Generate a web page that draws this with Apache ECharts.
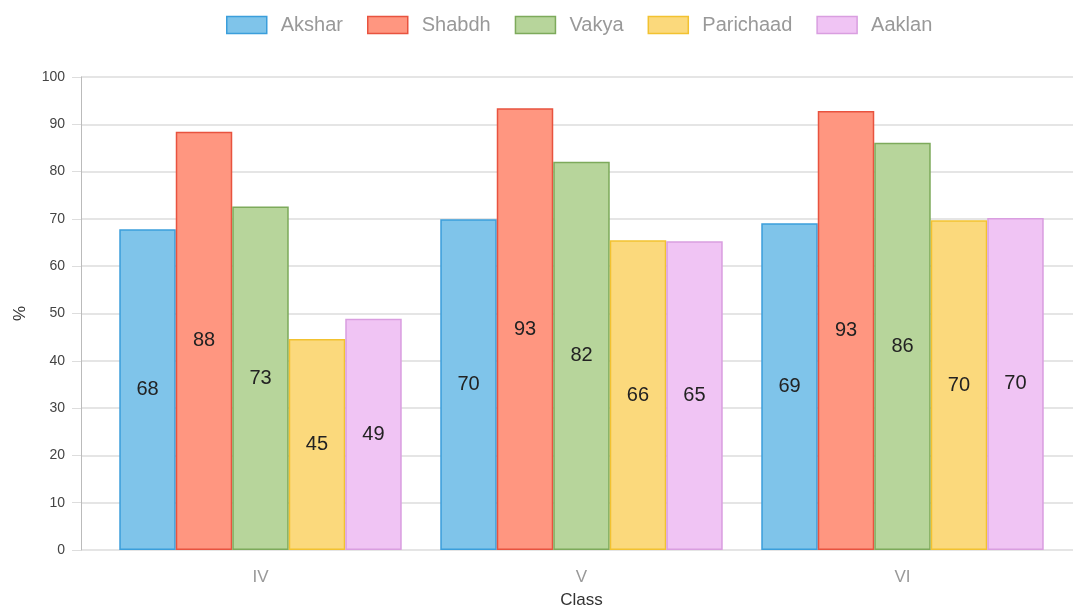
<!DOCTYPE html>
<html>
<head>
<meta charset="utf-8">
<script src="https://cdn.jsdelivr.net/npm/echarts@6/dist/echarts.min.js"></script>
<style>html,body{margin:0;padding:0;background:#fff}#c{width:1073px;height:611px}</style>
</head>
<body>
<div id="c"></div>
<script>
var categories = ['IV', 'V', 'VI'];
var seriesNames = ['Akshar', 'Shabdh', 'Vakya', 'Parichaad', 'Aaklan'];
var akshar = [67.8, 69.9, 69.1];
var shabdh = [88.4, 93.4, 92.8];
var vakya = [72.6, 82.1, 86.1];
var parichaad = [44.6, 65.5, 69.7];
var aaklan = [48.9, 65.3, 70.2];
var yTicks = [0, 10, 20, 30, 40, 50, 60, 70, 80, 90, 100];

var fills = ['#7fc4ea', '#ff9680', '#b7d59b', '#fbd97c', '#f0c4f4'];
var borders = ['#3b9edb', '#e8533f', '#7daa5b', '#f2c230', '#d99ee0'];
var values = [akshar, shabdh, vakya, parichaad, aaklan];
var font = 'Liberation Sans, Arial, sans-serif';

var chart = echarts.init(document.getElementById('c'));
var series = seriesNames.map(function (n, i) {
  return {
    name: n, type: 'bar', xAxisIndex: 0, yAxisIndex: 0,
    data: values[i],
    barGap: '0%', barCategoryGap: '12%',
    itemStyle: { color: fills[i], borderColor: borders[i], borderWidth: 1.5 },
    label: { show: true, position: 'inside', fontSize: 20, color: '#222', fontFamily: font,
      formatter: function (p) { return Math.round(p.value); } }
  };
});
chart.setOption({
  animation: false,
  legend: {
    top: 10, left: 221, itemWidth: 40, itemHeight: 17, itemGap: 24,
    textStyle: { fontSize: 20, color: '#999', fontFamily: font, padding: [0, 0, 0, 9] },
    data: seriesNames.map(function (n, i) {
      return { name: n, icon: 'rect', itemStyle: { color: fills[i], borderColor: borders[i], borderWidth: 1.5 } };
    })
  },
  grid: [
    { left: 100, right: 10, top: 77, bottom: 61, outerBoundsMode: 'none', containLabel: false },
    { left: 81, right: 0, top: 77, bottom: 61, outerBoundsMode: 'none', containLabel: false }
  ],
  xAxis: [
    { type: 'category', gridIndex: 0, data: categories,
      axisLine: { show: false }, axisTick: { show: false },
      axisLabel: { fontSize: 17, color: '#999', margin: 19, fontFamily: font },
      name: 'Class', nameLocation: 'middle', nameGap: 42,
      nameTextStyle: { fontSize: 17, color: '#333', fontFamily: font } },
    { type: 'value', gridIndex: 1, min: 0, max: 1, show: false }
  ],
  yAxis: [
    { type: 'value', gridIndex: 0, min: 0, max: 100, interval: 10, show: false },
    { type: 'value', gridIndex: 1, min: 0, max: 100, interval: 10,
      axisLine: { show: true, lineStyle: { color: '#bbb', width: 1 } },
      axisTick: { show: true, length: 9, lineStyle: { color: '#ddd' } },
      splitLine: { show: true, lineStyle: { color: '#ddd', width: 1.5 } },
      axisLabel: { fontSize: 14, color: '#444', margin: 16, fontFamily: font,
        formatter: function (v) { return yTicks.indexOf(v) >= 0 ? String(v) : ''; } },
      name: '%', nameLocation: 'middle', nameGap: 52, nameRotate: 90,
      nameTextStyle: { fontSize: 17, color: '#333', fontFamily: font } }
  ],
  series: series
});
</script>
</body>
</html>
